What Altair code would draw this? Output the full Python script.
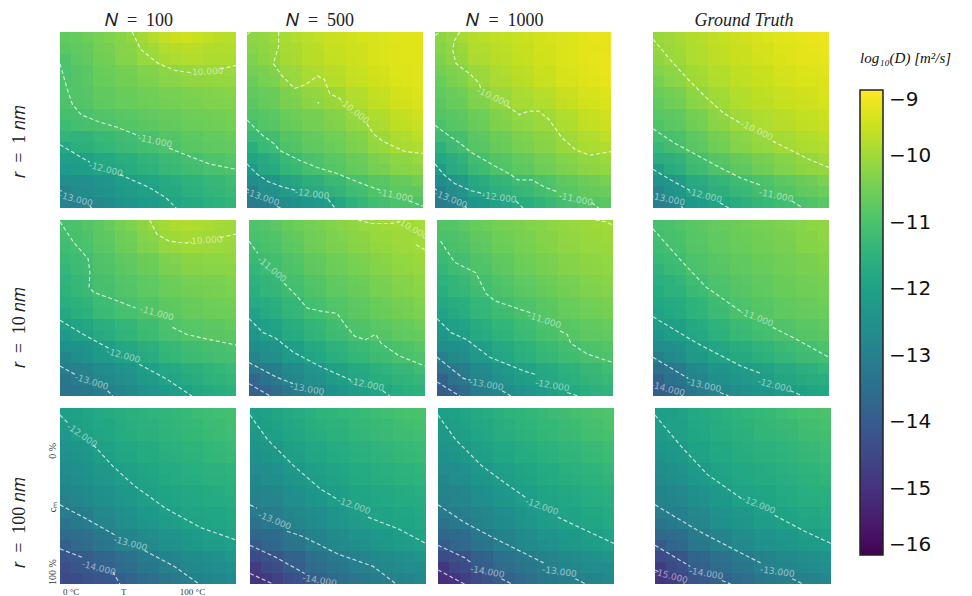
import altair as alt
import pandas as pd

# magnitude of log10(D) (stored positive; plotted negative). Rows top to bottom, columns left to right.
r1_n100 = [
[10.7,10.5,10.3,10.05,9.7,9.5,9.6,9.75],
[11.0,10.65,10.45,10.3,10.15,10.0,9.95,9.97],
[10.95,10.7,10.6,10.5,10.4,10.3,10.25,10.2],
[11.0,10.8,10.7,10.65,10.55,10.5,10.45,10.4],
[11.25,11.15,11.03,10.93,10.82,10.7,10.62,10.55],
[11.93,11.7,11.45,11.3,11.12,10.95,10.85,10.75],
[12.35,12.2,12.0,11.8,11.6,11.4,11.25,11.1],
[12.95,12.75,12.5,12.25,12.05,11.8,11.6,11.4]]
r1_n500 = [
[10.2,9.95,9.75,9.6,9.5,9.4,9.35,9.3],
[10.4,10.03,9.85,9.7,9.6,9.45,9.35,9.3],
[10.65,10.4,10.03,9.97,9.75,9.6,9.45,9.35],
[10.8,10.6,10.4,10.3,10.05,9.8,9.6,9.45],
[11.1,10.8,10.6,10.5,10.35,10.1,9.85,9.65],
[11.7,11.2,10.9,10.75,10.55,10.35,10.05,9.95],
[12.3,11.75,11.35,11.07,10.85,10.7,10.5,10.35],
[13.1,12.6,12.3,12.1,11.6,11.2,11.0,10.95]]
r1_n1000 = [
[10.2,9.8,9.7,9.6,9.5,9.4,9.3,9.25],
[10.4,10.05,9.85,9.7,9.55,9.4,9.3,9.2],
[10.65,10.3,10.03,9.85,9.7,9.55,9.4,9.3],
[10.8,10.55,10.35,10.05,10.0,9.8,9.6,9.45],
[11.05,10.8,10.55,10.35,10.2,10.05,9.8,9.6],
[11.65,11.03,10.8,10.6,10.4,10.25,10.02,9.95],
[12.3,11.6,11.2,11.0,10.8,10.6,10.4,10.3],
[13.1,12.4,12.1,11.75,11.5,11.15,10.95,10.8]]
r1_gt = [
[10.05,9.85,9.7,9.55,9.45,9.35,9.25,9.2],
[10.2,9.95,9.8,9.65,9.55,9.45,9.35,9.3],
[10.5,10.12,9.95,9.8,9.65,9.55,9.45,9.38],
[10.75,10.5,10.2,9.95,9.8,9.7,9.6,9.5],
[10.97,10.75,10.45,10.2,10.02,9.85,9.75,9.65],
[11.4,11.05,10.8,10.5,10.3,10.15,10.02,9.9],
[12.2,11.6,11.25,11.02,10.85,10.6,10.4,10.25],
[13.0,12.3,11.98,11.7,11.4,11.2,11.05,10.8]]
r10_n100 = [
[11.02,10.8,10.55,10.3,10.0,9.8,9.85,10.0],
[11.2,10.98,10.75,10.55,10.35,10.1,10.05,10.1],
[11.4,11.05,10.9,10.75,10.6,10.4,10.35,10.3],
[11.5,11.15,11.0,10.85,10.7,10.6,10.5,10.45],
[11.85,11.5,11.25,11.08,10.95,10.75,10.65,10.6],
[12.3,12.05,11.75,11.5,11.25,11.03,10.95,10.9],
[12.85,12.5,12.25,12.0,11.7,11.45,11.3,11.15],
[13.35,13.1,12.9,12.55,12.25,12.0,11.75,11.55]]
r10_n500 = [
[10.95,10.7,10.5,10.35,10.2,10.05,9.97,9.95],
[11.15,10.98,10.7,10.5,10.4,10.25,10.1,10.02],
[11.4,11.07,10.9,10.7,10.55,10.4,10.25,10.15],
[11.6,11.3,11.1,10.85,10.75,10.6,10.4,10.3],
[12.0,11.6,11.3,11.1,10.9,10.75,10.6,10.45],
[12.4,12.05,11.7,11.4,11.2,11.0,10.92,10.75],
[13.0,12.55,12.2,11.9,11.6,11.45,11.2,11.05],
[13.9,13.25,12.9,12.55,12.15,11.9,11.7,11.5]]
r10_n1000 = [
[10.9,10.7,10.5,10.4,10.3,10.15,10.05,10.0],
[11.15,10.95,10.7,10.55,10.4,10.3,10.15,10.1],
[11.4,11.02,10.92,10.7,10.55,10.4,10.3,10.2],
[11.65,11.35,11.1,10.95,10.8,10.6,10.45,10.35],
[12.0,11.6,11.35,11.15,10.97,10.8,10.65,10.55],
[12.45,12.05,11.7,11.45,11.2,11.0,10.9,10.8],
[13.1,12.6,12.2,11.9,11.6,11.4,11.2,11.05],
[13.95,13.2,12.85,12.45,12.2,11.9,11.65,11.45]]
r10_gt = [
[11.05,10.85,10.7,10.6,10.5,10.4,10.3,10.15],
[11.2,10.97,10.8,10.7,10.6,10.5,10.4,10.3],
[11.5,11.12,10.95,10.8,10.7,10.6,10.5,10.4],
[11.75,11.5,11.2,10.95,10.8,10.7,10.6,10.5],
[11.97,11.75,11.45,11.2,11.0,10.85,10.75,10.65],
[12.4,12.05,11.8,11.5,11.3,11.15,11.0,10.9],
[13.15,12.6,12.25,12.0,11.85,11.6,11.4,11.25],
[13.95,13.3,12.9,12.6,12.4,12.2,12.05,11.8]]
r100_n100 = [
[12.05,11.8,11.65,11.5,11.4,11.3,11.2,11.1],
[12.35,12.0,11.8,11.65,11.55,11.45,11.35,11.2],
[12.5,12.25,12.03,11.85,11.7,11.6,11.5,11.4],
[12.7,12.5,12.25,12.0,11.85,11.75,11.65,11.55],
[13.0,12.7,12.5,12.25,12.0,11.9,11.8,11.7],
[13.4,13.1,12.8,12.55,12.35,12.1,11.97,11.85],
[14.0,13.6,13.25,13.0,12.75,12.5,12.3,12.15],
[14.45,14.2,14.0,13.6,13.3,13.05,12.85,12.65]]
r100_n500 = [
[12.05,11.8,11.6,11.45,11.35,11.2,11.1,11.0],
[12.3,12.0,11.8,11.65,11.5,11.4,11.3,11.2],
[12.55,12.25,12.0,11.85,11.7,11.55,11.45,11.35],
[12.8,12.55,12.3,12.05,11.85,11.75,11.65,11.55],
[13.0,12.8,12.55,12.3,12.05,11.9,11.8,11.7],
[13.45,13.15,12.85,12.6,12.35,12.15,12.0,11.85],
[14.1,13.65,13.3,13.0,12.75,12.5,12.35,12.2],
[14.95,14.45,14.0,13.65,13.35,13.1,12.9,12.7]]
r100_n1000 = [
[12.05,11.8,11.6,11.45,11.3,11.2,11.05,10.95],
[12.3,12.0,11.8,11.6,11.5,11.35,11.25,11.1],
[12.55,12.25,12.0,11.85,11.7,11.55,11.45,11.3],
[12.8,12.55,12.3,12.05,11.85,11.75,11.6,11.5],
[13.0,12.8,12.55,12.3,12.05,11.9,11.8,11.65],
[13.45,13.15,12.85,12.6,12.35,12.15,12.0,11.85],
[14.1,13.65,13.3,13.0,12.75,12.5,12.35,12.2],
[15.05,14.5,14.0,13.65,13.35,13.1,12.9,12.7]]
r100_gt = [
[12.05,11.85,11.65,11.5,11.35,11.25,11.1,11.0],
[12.2,11.97,11.8,11.65,11.5,11.4,11.3,11.15],
[12.5,12.12,11.95,11.8,11.65,11.55,11.45,11.3],
[12.75,12.5,12.2,11.95,11.8,11.7,11.6,11.5],
[12.97,12.75,12.45,12.2,12.0,11.85,11.75,11.65],
[13.4,13.05,12.8,12.5,12.3,12.15,12.0,11.9],
[14.15,13.6,13.25,13.0,12.75,12.55,12.4,12.25],
[14.95,14.3,13.9,13.6,13.35,13.1,13.0,12.8]]

# contours: level -> list of read segments [(T%, cm%), ...]
c_r1_n100 = [
 (10,[[(41,0),(46,10),(56,18),(66,22),(74,23)],[(91,21),(100,19)]]),
 (11,[[(0,18),(4,32),(7,41),(12,47),(22,51),(32,54),(45,59)],[(62,66),(72,70),(85,75),(100,78)]]),
 (12,[[(0,64),(10,70),(17,74)],[(34,81),(50,88),(60,94),(66,100)]]),
 (13,[[(0,90),(1,90.5)],[(17,99),(18,100)]])]
c_r1_n500 = [
 (10,[[(0,1.5),(2,0)],[(18,0),(18,8),(15,18),(20,25),(27,32),(33,30),(40,25),(44,27),(47,35),(53,38),(54,40)],[(68,52),(72,58),(77,62),(90,68),(100,69)],[(40,40),(41,40.5)]]),
 (11,[[(0,50),(8,58),(16,64),(18,67),(30,73),(40,77),(50,80),(65,86),(76,90)],[(92,96),(100,99)]]),
 (12,[[(0,75),(6,81),(12,85),(20,88),(28,90)],[(46,95),(50,100)]]),
 (13,[[(0,89),(1,90)],[(17,99),(19,100)]])]
c_r1_n1000 = [
 (10,[[(0,2),(3,0)],[(14,0),(11,5),(10,10),(12,18),(20,24),(25,29),(26,32)],[(41,42),(48,47),(53,45),(59,45),(65,50),(72,60),(80,67),(88,70),(100,68)]]),
 (11,[[(0,53),(8,59),(14,63),(20,68),(32,75),(43,81),(47,84),(55,84),(62,88),(70,91)],[(89,97),(93,100)]]),
 (12,[[(0,75),(5,81),(11,86),(20,90),(28,92)],[(46,96),(50,100)]]),
 (13,[[(0,89),(1,90)],[(17,99),(18,100)]])]
c_r1_gt = [
 (10,[[(0,4),(10,16),(20,27),(30,37),(40,46),(50,52)],[(68,62),(80,68),(90,73),(100,77)]]),
 (11,[[(0,55),(12,63),(25,70),(38,77),(50,83),(61,87)],[(79,96),(85,100)]]),
 (12,[[(0,78),(10,84),(21,90)],[(38,97),(43,100)]]),
 (13,[[(16,99),(17,100)]])]
c_r10_n100 = [
 (10,[[(51,0),(55,8),(62,12),(70,13),(75,13)],[(91,10),(100,8)]]),
 (11,[[(0,1),(8,13),(16,22),(17,30),(16.5,38),(19,41),(30,45),(43,50)],[(64,61),(72,65),(85,68),(100,71)]]),
 (12,[[(0,57),(15,66),(28,73)],[(45,82),(60,90),(75,100)]]),
 (13,[[(0,83),(9,88)],[(27,97),(30,100)]])]
c_r10_n500 = [
 (10,[[(62,0),(70,2),(80,2),(86,1)],[(95,14),(100,17)]]),
 (11,[[(0,12),(5,19)],[(20,36),(27,43),(33,50),(42,52),(50,53),(55,60),(60,66),(66,68),(72,65),(75,70),(85,77),(100,83)]]),
 (12,[[(0,56),(8,64),(15,67),(25,75),(40,83),(58,91)],[(76,97),(80,100)]]),
 (13,[[(0,81),(15,89),(25,93)],[(41,100),(42,100)]]),
 (14,[[(0,93),(12,100)]])]
c_r10_n1000 = [
 (10,[[(90,0),(96,1),(100,3)]]),
 (11,[[(2,12),(10,24),(22,30),(28,42),(33,46),(45,50),(54,53)],[(70,63),(74,65),(76,70),(85,76),(100,81)]]),
 (12,[[(0,56),(8,64),(17,68),(30,78),(50,86),(57,88)],[(74,98),(80,100)]]),
 (13,[[(0,78),(15,90),(19,91)],[(37,97),(42,100)]]),
 (14,[[(0,92),(13,100)]])]
c_r10_gt = [
 (11,[[(0,5),(15,22),(30,38),(50,52)],[(68,61),(80,67),(100,78)]]),
 (12,[[(0,55),(25,70),(50,83),(61,87)],[(78,97),(85,100)]]),
 (13,[[(0,78),(20,90)],[(38,98),(43,100)]]),
 (14,[[(16,100),(17,100)]])]
c_r100_n100 = [
 (12,[[(0,4),(5,9)],[(19,21),(30,33),(42,44),(60,57),(80,68),(100,75)]]),
 (13,[[(0,55),(15,63),(31,72)],[(48,81),(65,90),(79,100)]]),
 (14,[[(0,80),(13,85)],[(30,93),(34,100)]])]
c_r100_n500 = [
 (12,[[(0,4),(10,18),(25,33),(40,46),(50,52)],[(67,62),(85,69),(100,77)]]),
 (13,[[(0,55),(4,57)],[(21,70),(30,73),(50,83),(70,90),(83,100)]]),
 (14,[[(0,78),(15,85),(31,94)]]),
 (15,[[(0,94),(13,100)]])]
c_r100_n1000 = [
 (12,[[(0,4),(10,18),(25,33),(40,44),(50,51)],[(68,62),(85,70),(100,77)]]),
 (13,[[(0,55),(15,65),(30,73),(50,83),(60,88)],[(78,97),(84,100)]]),
 (14,[[(0,78),(15,85),(19,88)],[(36,97),(42,100)]]),
 (15,[[(0,92),(15,100)]])]
c_r100_gt = [
 (12,[[(0,4),(15,22),(30,38),(50,52)],[(68,61),(85,70),(100,77)]]),
 (13,[[(0,55),(25,70),(50,83),(60,88)],[(78,97),(84,100)]]),
 (14,[[(0,78),(20,90)],[(38,98),(43,100)]]),
 (15,[[(0,92),(2,93)],[(16,100),(17,100)]])]

# contour labels: (text, T%, cm%, angle)
l_r1_n100 = [("-10.000",83,22.5,357),("-11.000",54,62,12),("-12.000",26,78,15),("-13.000",9,95,15)]
l_r1_n500 = [("-10.000",61,45,38),("-11.000",84.5,93,12),("-12.000",37,92,8),("-13.000",9,94,20)]
l_r1_n1000 = [("-10.000",33,37,25),("-11.000",80,95,12),("-12.000",36.5,94,8),("-13.000",9,95,22)]
l_r1_gt = [("-10.000",59,56,25),("-11.000",70,93,12),("-12.000",29.5,93,15),("-13.000",8.5,95,12)]
l_r10_n100 = [("-10.000",82.5,11.5,356),("-11.000",55,53,15),("-12.000",36,77,15),("-13.000",18,92,18)]
l_r10_n500 = [("-10.000",93,5,30),("-11.000",13,28,40),("-12.000",67,93.5,12),("-13.000",33,96,10)]
l_r10_n1000 = [("-11.000",61,57,18),("-12.000",65.5,94,10),("-13.000",28,93.5,10)]
l_r10_gt = [("-11.000",59,55.5,22),("-12.000",69,94,15),("-13.000",29,94,13),("-14.000",8.5,96,15)]
l_r100_n100 = [("-12.000",12.5,15.5,35),("-13.000",40,77,15),("-14.000",22,91,15)]
l_r100_n500 = [("-12.000",59,55.5,20),("-13.000",14,64,22),("-14.000",39.5,98,10)]
l_r100_n1000 = [("-12.000",59,56,20),("-13.000",69,93,8),("-14.000",28,93,10)]
l_r100_gt = [("-12.000",59,55,22),("-13.000",69.5,93,8),("-14.000",29,94,10),("-15.000",9,95.5,15)]

col_titles = ["𝑁\u2002=\u2002100", "𝑁\u2002=\u2002500", "𝑁\u2002=\u20021000", "Ground Truth"]
col_title_dx = [-9, -15, -18, 3]
row_titles = ["𝑟\u2002=\u20021 𝑛𝑚", "𝑟\u2002=\u200210 𝑛𝑚", "𝑟\u2002=\u2002100 𝑛𝑚"]
row_title_y = [109, 107, 114]
legend_values = [-16, -15, -14, -13, -12, -11, -10, -9]
x_tick_pos = [6, 36, 75]
x_tick_text = {"6": "0 °C", "36": "T", "75": "100 °C"}
y_tick_pos = [24, 56, 93]
y_tick_text = {"24": "0 %", "56": "cₘ", "93": "100 %"}

SERIF = "Liberation Serif"
xs = alt.Scale(domain=[0, 100], nice=False, zero=False)
ys = alt.Scale(domain=[0, 100], nice=False, zero=False, reverse=True)
cs = alt.Scale(domain=[-16, -9], scheme="viridis")
legend = alt.Legend(
    title="\u2002\u2002log₁₀(D) [m²/s]", orient="none", legendX=800, legendY=19,
    values=legend_values, labelExpr="'−' + abs(datum.value)",
    gradientLength=465, gradientThickness=23, gradientStrokeColor="#222", gradientStrokeWidth=1.5,
    labelFontSize=20, labelFont="DejaVu Sans", labelColor="#111", labelOffset=6, labelBaseline="middle",
    titleFont=SERIF, titleFontStyle="italic", titleFontWeight="normal", titleFontSize=15, titleColor="#111",
    titlePadding=24, titleLimit=200, tickCount=8)

# the same read cells are painted again half a cell off, faintly, so the blocks soften
CELL = 12.5
soft_layers = [(0.5, 0.5, 0.5), (-0.5, -0.5, 1 / 3), (0.5, -0.5, 0.25), (-0.5, 0.5, 0.2)]


def panel(grid, contours, labels, row, col):
    cells = [dict(x=c * CELL, x2=(c + 1) * CELL, y=r * CELL, y2=(r + 1) * CELL, v=-val)
             for r, line in enumerate(grid) for c, val in enumerate(line)]
    pts = []
    for level, segs in contours:
        for s, seg in enumerate(segs):
            for i, (px, py) in enumerate(seg):
                pts.append(dict(x=px, y=py, seg=f"{level}-{s}", i=i))
    labs = [dict(t=t, x=px, y=py, a=a) for t, px, py, a in labels]

    xaxis = None
    yaxis = None
    if col == 0:
        if row == 2:
            yaxis = alt.Axis(values=y_tick_pos, title=row_titles[row], labelExpr=f"{y_tick_text}[datum.value]",
                             labelAngle=270, labelAlign="center", labelBaseline="middle", labelFont=SERIF,
                             labelFontSize=10, labelColor="#333", labelPadding=8, ticks=False, domain=False, grid=False,
                             minExtent=12, maxExtent=12, titlePadding=20, titleFont=SERIF, titleFontSize=18,
                             titleFontWeight="normal", titleColor="#222", titleY=row_title_y[row])
        else:
            yaxis = alt.Axis(values=[], title=row_titles[row], labels=False, ticks=False, domain=False, grid=False,
                             minExtent=12, maxExtent=12, titlePadding=20, titleFont=SERIF, titleFontSize=18,
                             titleFontWeight="normal", titleColor="#222", titleY=row_title_y[row])
    if col == 0 and row == 2:
        xaxis = alt.Axis(values=x_tick_pos, title=None, labelExpr=f"{x_tick_text}[datum.value]", labelAngle=0,
                         labelAlign="center", labelFont=SERIF, labelFontSize=9, labelColor="#333", labelPadding=3,
                         ticks=False, domain=False, grid=False)

    X = alt.X("x:Q", scale=xs, axis=xaxis)
    Y = alt.Y("y:Q", scale=ys, axis=yaxis)
    df = pd.DataFrame(cells)
    heat = alt.Chart(df).mark_rect().encode(
        x=X, x2="x2:Q", y=Y, y2="y2:Q", color=alt.Color("v:Q", scale=cs, legend=legend))
    layers = [heat]
    for dx, dy, op in soft_layers:
        shifted = df.assign(x=df.x + dx * CELL, x2=df.x2 + dx * CELL, y=df.y + dy * CELL, y2=df.y2 + dy * CELL)
        layers.append(alt.Chart(shifted).mark_rect(opacity=op, clip=True).encode(
            x=X, x2="x2:Q", y=Y, y2="y2:Q", color=alt.Color("v:Q", scale=cs, legend=None)))
    lines = alt.Chart(pd.DataFrame(pts)).mark_line(
        color="white", opacity=0.72, strokeWidth=1.2, strokeDash=[4, 2.5], clip=True).encode(
        x=X, y=Y, detail="seg:N", order="i:Q")
    texts = alt.Chart(pd.DataFrame(labs)).mark_text(
        color="white", opacity=0.5, font="DejaVu Sans", fontSize=9, clip=True).encode(
        x=X, y=Y, text="t:N", angle=alt.Angle("a:Q", scale=None))
    ch = alt.layer(*layers, lines, texts).properties(width=176, height=176)
    if row == 0:
        ch = ch.properties(title=alt.TitleParams(
            col_titles[col], font=SERIF, fontSize=18, fontWeight="normal", color="#222",
            fontStyle="italic" if col == 3 else "normal", dx=col_title_dx[col], offset=2, anchor="middle"))
    return ch


def row_chart(panels, gaps):
    ch = panels[0]
    for p, g in zip(panels[1:], gaps):
        ch = alt.hconcat(ch, p, spacing=g).resolve_scale(color="shared")
    return ch


rows = [
    row_chart([panel(r1_n100, c_r1_n100, l_r1_n100, 0, 0), panel(r1_n500, c_r1_n500, l_r1_n500, 0, 1),
               panel(r1_n1000, c_r1_n1000, l_r1_n1000, 0, 2), panel(r1_gt, c_r1_gt, l_r1_gt, 0, 3)], [11, 12, 42]),
    row_chart([panel(r10_n100, c_r10_n100, l_r10_n100, 1, 0), panel(r10_n500, c_r10_n500, l_r10_n500, 1, 1),
               panel(r10_n1000, c_r10_n1000, l_r10_n1000, 1, 2), panel(r10_gt, c_r10_gt, l_r10_gt, 1, 3)], [13, 12, 40]),
    row_chart([panel(r100_n100, c_r100_n100, l_r100_n100, 2, 0), panel(r100_n500, c_r100_n500, l_r100_n500, 2, 1),
               panel(r100_n1000, c_r100_n1000, l_r100_n1000, 2, 2), panel(r100_gt, c_r100_gt, l_r100_gt, 2, 3)], [14, 12, 41]),
]

chart = alt.vconcat(*rows, spacing=12).resolve_scale(color="shared").properties(
    padding={"left": 2, "top": 4, "right": 0, "bottom": 0}, background="white"
).configure_view(stroke=None).configure_axis(grid=False)

chart.save("out.html", embed_options={"renderer": "svg", "actions": False})
